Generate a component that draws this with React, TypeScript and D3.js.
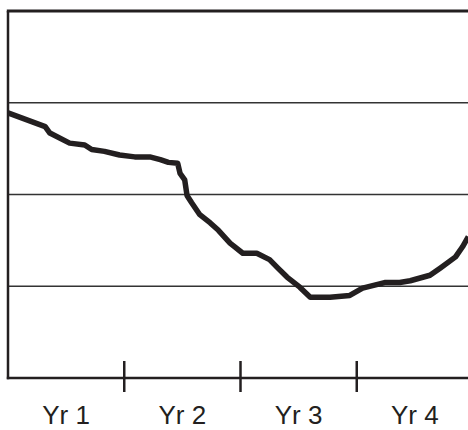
import React, { useEffect, useRef } from "react";
import * as d3 from "d3";

// time in years from the start, value in grid units
const years = [
  0, 0.32, 0.36, 0.53, 0.66, 0.72, 0.83, 0.96, 1.09, 1.22, 1.31, 1.38, 1.46,
  1.48, 1.52, 1.54, 1.58, 1.65, 1.74, 1.81, 1.91, 2.02, 2.14, 2.25, 2.32, 2.4,
  2.51, 2.6, 2.77, 2.94, 3.05, 3.24, 3.37, 3.46, 3.63, 3.72, 3.85, 3.91, 3.96,
];
const values = [
  2.89, 2.74, 2.67, 2.56, 2.54, 2.49, 2.47, 2.43, 2.41, 2.41, 2.38, 2.35, 2.34,
  2.23, 2.16, 1.99, 1.91, 1.78, 1.69, 1.61, 1.47, 1.36, 1.36, 1.29, 1.2, 1.1,
  0.99, 0.88, 0.88, 0.9, 0.98, 1.04, 1.04, 1.06, 1.12, 1.2, 1.32, 1.43, 1.54,
];
const yearLabels = ["Yr 1", "Yr 2", "Yr 3", "Yr 4"];
const gridValues = [1, 2, 3];

const W = 468;
const H = 430;

const App = () => {
  const ref = useRef(null);

  useEffect(() => {
    const svg = d3.select(ref.current);
    svg.selectAll("*").remove();

    const x = d3.scaleLinear().domain([0, 4]).range([8, 473]);
    const y = d3.scaleLinear().domain([0, 4]).range([378, 11]);
    const ink = "#231f20";

    // gridlines
    svg
      .selectAll("line.grid")
      .data(gridValues)
      .enter()
      .append("line")
      .attr("class", "grid")
      .attr("x1", x(0))
      .attr("x2", W)
      .attr("y1", (d) => y(d))
      .attr("y2", (d) => y(d))
      .attr("stroke", "#333")
      .attr("stroke-width", 1.4);

    // top border
    svg
      .append("line")
      .attr("x1", x(0) - 1.2)
      .attr("x2", W)
      .attr("y1", y(4))
      .attr("y2", y(4))
      .attr("stroke", ink)
      .attr("stroke-width", 3);

    // left axis
    svg
      .append("line")
      .attr("x1", x(0))
      .attr("x2", x(0))
      .attr("y1", y(4))
      .attr("y2", y(0) + 1.2)
      .attr("stroke", ink)
      .attr("stroke-width", 2.5);

    // bottom axis
    svg
      .append("line")
      .attr("x1", x(0) - 1.2)
      .attr("x2", W)
      .attr("y1", y(0))
      .attr("y2", y(0))
      .attr("stroke", ink)
      .attr("stroke-width", 2.5);

    // year ticks
    svg
      .selectAll("line.tick")
      .data([1, 2, 3])
      .enter()
      .append("line")
      .attr("class", "tick")
      .attr("x1", (d) => x(d))
      .attr("x2", (d) => x(d))
      .attr("y1", y(0) - 17)
      .attr("y2", y(0) + 14)
      .attr("stroke", ink)
      .attr("stroke-width", 2.5);

    // year labels
    svg
      .selectAll("text.yr")
      .data(yearLabels)
      .enter()
      .append("text")
      .attr("class", "yr")
      .attr("x", (d, i) => x(i + 0.5))
      .attr("y", 424)
      .attr("text-anchor", "middle")
      .attr("font-family", "'Liberation Sans', Arial, sans-serif")
      .attr("font-size", 26)
      .attr("fill", ink)
      .text((d) => d);

    // the series
    const line = d3
      .line()
      .x((d) => x(d[0]))
      .y((d) => y(d[1]));

    svg
      .append("path")
      .datum(years.map((t, i) => [t, values[i]]))
      .attr("d", line)
      .attr("fill", "none")
      .attr("stroke", ink)
      .attr("stroke-width", 5.5)
      .attr("stroke-linejoin", "round");
  });

  return (
    <div style={{ position: "absolute", left: 0, top: 0 }}>
      <svg ref={ref} width={W} height={H} style={{ display: "block", background: "#fff" }}></svg>
    </div>
  );
};

export default App;
